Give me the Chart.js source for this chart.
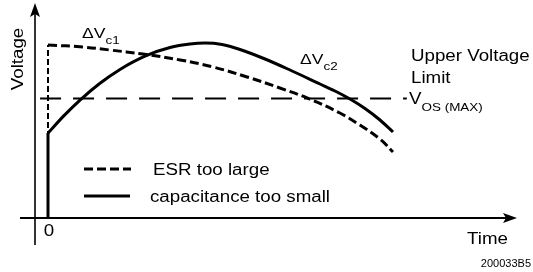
<!DOCTYPE html>
<html>
<head>
<meta charset="utf-8">
<script src="https://cdn.jsdelivr.net/npm/chart.js@4"></script>
<style>
html,body{margin:0;padding:0;background:#fff;}
canvas{display:block;}
</style>
</head>
<body>
<canvas id="c" width="533" height="272"></canvas>
<script>
// ---- data (arbitrary schematic units: time 0..100, voltage 0..100) ----
const seriesLabels = ['ESR too large', 'capacitance too small'];
const timeEsr  = [0, 10.1, 17.9, 27.5, 38.3, 47.8, 57.7, 67.2, 75.1, 84.6, 90.4, 96.2, 100];
const voltEsr  = [98.9, 97.7, 96, 93.7, 90.3, 86.3, 80.6, 74.3, 68.6, 60, 53.1, 45.1, 37.7];
const timeCap  = [0, 4.64, 9.28, 15.07, 20.87, 28.12, 35.36, 41.16, 45.51, 50.43, 55.65, 62.9, 70.14, 78.84, 83.19, 87.54, 91.88, 96.23, 100];
const voltCap  = [48.57, 58.5, 67.4, 77.0, 84.9, 92.5, 97.4, 99.4, 99.94, 99.14, 96.29, 90.86, 84.57, 76.57, 72.57, 68.0, 62.57, 56.0, 49.14];
const vosMax   = 68.3;
const vosSpan  = [-2.3, 104];
const xTickLabels = ['0'];
const xTickValues = [0];
const axisTitles = {x: 'Time', y: 'Voltage'};

const FONT = '"Liberation Sans", Arial, Helvetica, sans-serif';
const SX = 1.17;

function pts(xs, ys){ return xs.map((x,i)=>({x:x, y:ys[i]})); }

function txt(ctx, s, x, y, size, opt){
  opt = opt || {};
  const sx = opt.sx || SX;
  ctx.save();
  ctx.font = size + 'px ' + FONT;
  ctx.fillStyle = '#000';
  ctx.textBaseline = opt.baseline || 'alphabetic';
  ctx.textAlign = opt.align || 'left';
  const w = ctx.measureText(s).width * sx;
  ctx.translate(x, y);
  if (opt.rot) ctx.rotate(opt.rot);
  ctx.scale(sx, 1);
  ctx.fillText(s, 0, 0);
  ctx.restore();
  return w;
}

const deco = {
  id: 'deco',
  afterDatasetsDraw(chart){
    const ctx = chart.ctx;
    const xs = chart.scales.x, ys = chart.scales.y;
    const ox = 35, oy = ys.getPixelForValue(0);
    ctx.save();
    ctx.strokeStyle = '#000'; ctx.fillStyle = '#000';
    // y axis
    ctx.lineWidth = 1.6;
    ctx.beginPath(); ctx.moveTo(ox, 245); ctx.lineTo(ox, 12); ctx.stroke();
    ctx.beginPath(); ctx.moveTo(ox, 3); ctx.lineTo(ox-5, 17); ctx.lineTo(ox, 14); ctx.lineTo(ox+5, 17); ctx.closePath(); ctx.fill();
    // x axis
    ctx.lineWidth = 2;
    ctx.beginPath(); ctx.moveTo(20, oy); ctx.lineTo(508, oy); ctx.stroke();
    ctx.beginPath(); ctx.moveTo(517, oy); ctx.lineTo(503, oy-5); ctx.lineTo(506, oy); ctx.lineTo(503, oy+5); ctx.closePath(); ctx.fill();
    // legend
    ctx.lineWidth = 3;
    ctx.setLineDash([9,4]);
    ctx.beginPath(); ctx.moveTo(84, 169); ctx.lineTo(131, 169); ctx.stroke();
    ctx.setLineDash([]);
    ctx.beginPath(); ctx.moveTo(84, 196); ctx.lineTo(130, 196); ctx.stroke();
    ctx.restore();

    txt(ctx, seriesLabels[0], 153, 175, 16);
    txt(ctx, seriesLabels[1], 150, 202, 16);
    // ticks
    xTickLabels.forEach((l,i)=>{ txt(ctx, l, xs.getPixelForValue(xTickValues[i]) + 1, 236, 16, {align:'center'}); });
    // axis titles
    txt(ctx, axisTitles.x, 467, 244, 16);
    txt(ctx, axisTitles.y, 23, 59, 16, {rot:-Math.PI/2, align:'center'});
    // annotations
    let w = txt(ctx, '\u0394V', 82, 38, 15);
    txt(ctx, 'c1', 82 + w, 44, 11.5);
    w = txt(ctx, '\u0394V', 300, 64, 15);
    txt(ctx, 'c2', 300 + w, 70, 11.5);
    txt(ctx, 'Upper Voltage', 411, 61, 16);
    txt(ctx, 'Limit', 411, 83, 16);
    w = txt(ctx, 'V', 409, 104, 16);
    txt(ctx, 'OS (MAX)', 409 + w, 111, 11.5);
    txt(ctx, '200033B5', 531, 267, 11, {align:'right', sx:1.0});
  }
};

new Chart(document.getElementById('c'), {
  type: 'line',
  data: {
    datasets: [
      {label: seriesLabels[1] + ' step', data: [{x:0,y:0},{x:0,y:voltCap[0]}], borderColor:'#000', borderWidth:3, pointRadius:0, tension:0, clip:false},
      {label: seriesLabels[1], data: pts(timeCap, voltCap), borderColor:'#000', borderWidth:3, pointRadius:0, cubicInterpolationMode:'monotone', clip:false},
      {label: seriesLabels[0] + ' step', data: [{x:0,y:0},{x:0,y:voltEsr[0]}], borderColor:'#000', borderWidth:2, borderDash:[6,3], pointRadius:0, tension:0, clip:false},
      {label: seriesLabels[0], data: pts(timeEsr, voltEsr), borderColor:'#000', borderWidth:3, borderDash:[9,4], pointRadius:0, tension:0.4, clip:false},
      {label: 'VOS(MAX)', data: [{x:vosSpan[0],y:vosMax},{x:vosSpan[1],y:vosMax}], borderColor:'#000', borderWidth:2, borderDash:[21,12], pointRadius:0, clip:false}
    ]
  },
  options: {
    responsive: false,
    animation: false,
    devicePixelRatio: 1,
    layout: {padding: {left:48, right:140, top:43, bottom:54}},
    plugins: {legend:{display:false}, tooltip:{enabled:false}},
    scales: {
      x: {type:'linear', min:0, max:100, display:false},
      y: {type:'linear', min:0, max:100, display:false}
    }
  },
  plugins: [deco]
});
</script>
</body>
</html>
